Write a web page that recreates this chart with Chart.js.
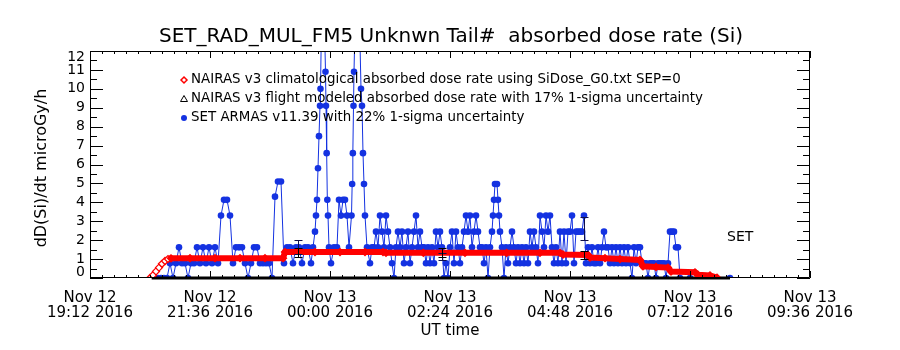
<!DOCTYPE html>
<html>
<head>
<meta charset="utf-8">
<title>SET_RAD_MUL_FM5 absorbed dose rate (Si)</title>
<script src="https://cdn.jsdelivr.net/npm/chart.js@4.4.1/dist/chart.umd.min.js"></script>
<style>
  body { margin: 0; background: #fff; }
  #chart { display: block; }
</style>
</head>
<body>
<canvas id="chart" width="900" height="350"></canvas>
<script>
// DATA  (time = minutes after Nov 12 19:12 UT, dose = microGy/h)
const tickMinutes = [0, 144, 288, 432, 576, 720, 864];
const tickDays = ['Nov 12', 'Nov 12', 'Nov 13', 'Nov 13', 'Nov 13', 'Nov 13', 'Nov 13'];
const tickClock = ['19:12 2016', '21:36 2016', '00:00 2016', '02:24 2016', '04:48 2016', '07:12 2016', '09:36 2016'];
const doseTicks = [0, 1, 2, 3, 4, 5, 6, 7, 8, 9, 10, 11, 12];

// NAIRAS v3 climatological (red diamonds)
const redMinutes = [72, 75.6, 79.2, 82.8, 86.4, 90, 93.6, 97.2, 120, 150,
  180, 210, 231.6, 234, 270, 300, 330, 351.6, 355.2, 400,
  450, 500, 540, 564, 567.6, 597.6, 600, 618, 636, 660,
  663.6, 679.2, 693.6, 697.2, 726, 729.6, 744, 752.4];
const redDose = [0, 0.15, 0.35, 0.55, 0.75, 0.9, 1.0, 1.04, 1.05, 1.05,
  1.05, 1.05, 1.05, 1.37, 1.37, 1.37, 1.37, 1.37, 1.33, 1.33,
  1.33, 1.33, 1.33, 1.33, 1.24, 1.22, 1.08, 1.05, 1.0, 0.95,
  0.62, 0.58, 0.55, 0.34, 0.3, 0.17, 0.13, 0.02];

// NAIRAS v3 flight modeled (black triangles)
const blackMinutes = [74, 100, 130, 160, 190, 220, 250, 280, 310, 340,
  370, 400, 430, 460, 490, 520, 550, 580, 610, 640,
  670, 700, 730, 768];
const blackDose = [0, 0, 0, 0, 0, 0, 0, 0, 0, 0,
  0, 0, 0, 0, 0, 0, 0, 0, 0, 0,
  0, 0, 0, 0];

// SET ARMAS v11.39 (blue dots)
const blueMinutes = [
  74.4, 78, 81.6, 85.2, 88.8, 92.4, 96, 99.6, 103.2, 106.8,
  110.4, 114, 117.6, 121.2, 124.8, 128.4, 132, 135.6, 139.2, 142.8,
  146.4, 150, 153.6, 157.2, 160.8, 164.4, 168, 171.6, 175.2, 178.8,
  182.4, 186, 189.6, 193.2, 196.8, 200.4, 204, 207.6, 211.2, 214.8,
  218.4, 222, 225.6, 229.2, 232.8, 236.4, 240, 243.6, 247.2, 250.8,
  254.4, 258, 261.6, 265.2,
  267.6, 270, 271.2, 272.4, 273.6, 274.8, 276, 276.6, 278.4, 280.8,
  282.6, 283.2, 284, 284.8, 285.6, 286.8, 289.2, 292.8, 296.4, 298.8,
  301.2, 303.6, 306, 308.4, 310.8, 313.8, 314.6, 315.4, 316.2, 316.8,
  319.2, 322.8, 325.2, 326.4, 327.6, 328.8, 330, 332.4,
  336, 338.4, 340.8, 343.2, 345.6, 348, 350.4, 352.8, 355.2, 357.6,
  360, 362.4, 364.8, 367.2, 369.6, 372, 374.4, 376.8, 379.2, 381.6,
  384, 386.4, 388.8, 391.2, 393.6, 396, 398.4, 400.8, 403.2, 405.6,
  408, 410.4, 412.8, 415.2, 417.6, 420, 422.4, 424.8, 427.2, 429.6,
  432, 434.4, 436.8, 439.2, 441.6, 444, 446.4, 448.8, 451.2, 453.6,
  456, 458.4, 460.8, 463.2, 465.6, 468, 470.4, 472.8, 475.2, 477.6,
  480, 482.4, 483.6, 484.8, 486, 488.4, 489.6, 490.8, 492, 494.4,
  496.8, 499.2, 501.6, 504, 506.4, 508.8, 511.2, 513.6, 516, 518.4,
  520.8, 523.2, 525.6, 528, 530.4, 532.8, 535.2, 537.6, 540, 542.4,
  544.8, 547.2, 549.6, 552, 554.4, 556.8, 559.2,
  561.6, 564, 566.4, 568.8, 571.2, 573.6, 576, 578.4, 580.8, 583.2,
  585.6, 588, 590.4, 592.8, 595.2, 597.6, 600, 602.4, 604.8, 607.2,
  609.6, 612, 614.4, 616.8, 619.2, 621.6, 624, 626.4, 628.8, 631.2,
  633.6, 636, 638.4, 640.8, 643.2, 645.6, 648, 650.4, 652.8, 655.2,
  657.6, 660, 662.4, 664.8, 667.2, 669.6, 672, 674.4, 676.8, 679.2,
  681.6, 684, 686.4, 688.8, 691.2, 693.6, 696, 698.4, 700.8, 703.2,
  705.6, 708, 720, 744, 768];
const blueDose = [
  0, 0, 0, 0, 0, 0, 0.78, 0, 0.78, 1.62,
  0.78, 0.78, 0, 0.78, 0.78, 1.62, 0.78, 1.62, 0.78, 1.62,
  0.78, 1.62, 0.78, 3.3, 4.13, 4.13, 3.3, 0.78, 1.62, 1.62,
  1.62, 0.78, 0, 0.78, 1.62, 1.62, 0.78, 0.78, 0.78, 0.78,
  0, 4.3, 5.1, 5.1, 0.78, 1.62, 1.62, 0.78, 1.62, 1.62,
  0.78, 1.62, 1.62, 0.78,
  1.62, 2.45, 3.3, 4.13, 5.8, 7.5, 9.1, 10.0, 15.2, 14.5,
  10.9, 9.1, 6.6, 4.13, 3.3, 1.62, 0.78, 1.62, 1.62, 4.13,
  3.3, 4.13, 4.13, 3.3, 1.62, 3.3, 4.97, 6.6, 9.1, 10.9,
  15.8, 14.8, 10.0, 9.1, 6.6, 4.97, 3.3, 1.62,
  0.78, 1.62, 1.62, 2.45, 1.62, 3.3, 2.45, 1.62, 3.3, 2.45,
  1.62, 0.78, 0, 1.62, 2.45, 1.62, 2.45, 0.78, 1.62, 2.45,
  0.78, 1.62, 2.45, 3.3, 1.62, 2.45, 1.62, 1.62, 0.78, 1.62,
  0.78, 1.62, 0.78, 2.45, 1.62, 2.45, 1.62, 0, 0.78, 0,
  1.62, 2.45, 0.78, 2.45, 1.62, 0.78, 1.62, 2.45, 3.3, 2.45,
  3.3, 1.62, 2.45, 3.3, 2.45, 1.62, 1.62, 0.78, 1.62, 0,
  1.62, 2.45, 3.3, 4.13, 4.97, 4.97, 4.13, 3.3, 2.45, 1.62,
  0, 1.62, 0.78, 1.62, 2.45, 1.62, 0.78, 1.62, 0.78, 1.62,
  0.78, 1.62, 0.78, 2.45, 1.62, 2.45, 1.62, 0.78, 3.3, 2.45,
  1.62, 3.3, 2.45, 3.3, 1.62, 0.78, 1.62,
  0.78, 2.45, 0.78, 2.45, 0.78, 2.45, 2.45, 3.3, 0.78, 2.45,
  2.45, 2.45, 2.45, 3.3, 0.78, 1.62, 0.78, 1.62, 0.78, 0.78,
  1.62, 0.78, 1.62, 2.45, 1.62, 1.62, 0.78, 1.62, 0.78, 1.62,
  0.78, 1.62, 0.78, 1.62, 0.78, 1.62, 0.78, 0, 1.62, 0.78,
  1.62, 1.62, 0.78, 0.78, 0.78, 0, 0.78, 0.78, 0.78, 0,
  0.78, 0.78, 0.78, 0.78, 0, 0.78, 2.45, 2.45, 2.45, 1.62,
  1.62, 0, 0, 0, 0];

// 1-sigma error bars drawn at three times
const errMinutes = [249.6, 422.4, 592.8];
const nairasLow = [1.13, 1.13, 1.01];
const nairasHigh = [1.59, 1.57, 1.44];
const armasLow = [1.27, 0.95, 2.0];
const armasHigh = [2.0, 1.3, 3.25];

const legendText = [
  'NAIRAS v3 climatological absorbed dose rate using SiDose_G0.txt SEP=0',
  'NAIRAS v3 flight modeled absorbed dose rate with 17% 1-sigma uncertainty',
  'SET ARMAS v11.39 with 22% 1-sigma uncertainty'
];

const FONT = "'DejaVu Sans', sans-serif";
const RED = '#ff0000';
const BLUE = 'rgb(20,50,225)';
const RAMP = 7; // first red points are drawn as open diamonds

function points(xs, ys) {
  if (xs.length != ys.length) console.warn('length mismatch', xs.length, ys.length);
  return xs.map((m, i) => ({ x: m, y: ys[i] }));
}

// PLUGINS
const errorBars = {
  id: 'errorBars',
  afterDatasetsDraw(chart) {
    const { ctx, scales: { x, y } } = chart;
    ctx.save();
    ctx.lineWidth = 1;
    function bar(m, lo, hi, color) {
      const px = Math.round(x.getPixelForValue(m)) + 0.5;
      const y1 = Math.round(y.getPixelForValue(lo)) + 0.5;
      const y2 = Math.round(y.getPixelForValue(hi)) + 0.5;
      ctx.strokeStyle = color;
      ctx.beginPath();
      ctx.moveTo(px, y1); ctx.lineTo(px, y2);
      ctx.moveTo(px - 4, y1); ctx.lineTo(px + 4, y1);
      ctx.moveTo(px - 4, y2); ctx.lineTo(px + 4, y2);
      ctx.stroke();
    }
    for (let i = 0; i < errMinutes.length; i++) {
      bar(errMinutes[i], armasLow[i], armasHigh[i], '#10104a');
      bar(errMinutes[i], nairasLow[i], nairasHigh[i], '#000');
    }
    ctx.restore();
  }
};

// box, inward ticks, y labels, titles, legend
const decor = {
  id: 'decor',
  afterDraw(chart) {
    const { ctx, chartArea: a, scales: { x, y } } = chart;
    ctx.save();
    ctx.strokeStyle = '#000';
    ctx.lineWidth = 1;
    ctx.beginPath();
    ctx.rect(a.left + 0.5, a.top + 0.5, a.right - a.left - 1, a.bottom - a.top - 1);
    for (let k = 0; k <= 60; k++) {
      const px = Math.round(x.getPixelForValue(k * 14.4)) + 0.5;
      const len = k % 10 == 0 ? 7 : 3;
      ctx.moveTo(px, a.bottom); ctx.lineTo(px, a.bottom - len);
      ctx.moveTo(px, a.top); ctx.lineTo(px, a.top + len);
    }
    for (let k = 0; k <= 24; k++) {
      const py = Math.round(y.getPixelForValue(k * 0.5)) + 0.5;
      const len = k % 2 == 0 ? 13 : 7;
      ctx.moveTo(a.left, py); ctx.lineTo(a.left + len, py);
      ctx.moveTo(a.right, py); ctx.lineTo(a.right - len, py);
    }
    ctx.stroke();

    ctx.fillStyle = '#000';
    ctx.textBaseline = 'middle';
    // y tick labels, end ones pulled inside like IDL does
    ctx.font = "14px " + FONT;
    ctx.textAlign = 'right';
    doseTicks.forEach(v => {
      let py = y.getPixelForValue(v);
      py = Math.min(Math.max(py, a.top + 6), a.bottom - 6);
      ctx.fillText(String(v), a.left - 5, py);
    });
    // title
    ctx.textAlign = 'center';
    ctx.font = "20px " + FONT;
    ctx.fillText('SET_RAD_MUL_FM5 Unknwn Tail#  absorbed dose rate (Si)', 451, 37);
    // axis titles
    ctx.font = "15px " + FONT;
    ctx.fillText('UT time', 450, 331);
    ctx.save();
    ctx.translate(42, 168);
    ctx.rotate(-Math.PI / 2);
    ctx.font = "16px " + FONT;
    ctx.fillText('dD(Si)/dt microGy/h', 0, 0);
    ctx.restore();
    // SET tag
    ctx.textAlign = 'left';
    ctx.font = "14px " + FONT;
    ctx.fillText('SET', 727, 237);
    // legend
    ctx.font = "13.4px " + FONT;
    const ly = [80, 99, 118];
    legendText.forEach((t, i) => ctx.fillText(t, 191, ly[i]));
    ctx.lineWidth = 1.5;
    ctx.strokeStyle = RED;
    ctx.beginPath();
    ctx.moveTo(184, ly[0] - 3); ctx.lineTo(187, ly[0]); ctx.lineTo(184, ly[0] + 3); ctx.lineTo(181, ly[0]); ctx.closePath();
    ctx.stroke();
    ctx.strokeStyle = '#000';
    ctx.lineWidth = 1;
    ctx.beginPath();
    ctx.moveTo(184, ly[1] - 3.5); ctx.lineTo(187.5, ly[1] + 2.5); ctx.lineTo(180.5, ly[1] + 2.5); ctx.closePath();
    ctx.stroke();
    ctx.fillStyle = BLUE;
    ctx.beginPath();
    ctx.arc(184, ly[2], 3, 0, Math.PI * 2);
    ctx.fill();
    ctx.restore();
  }
};

// CHART
const config = {
  type: 'line',
  data: {
    datasets: [
      {
        label: 'NAIRAS climatological',
        data: points(redMinutes, redDose),
        borderColor: RED,
        borderWidth: 6,
        segment: { borderWidth: c => c.p1DataIndex < RAMP ? 1 : 6 },
        pointStyle: 'rectRot',
        pointRadius: 3.5,
        pointBackgroundColor: c => c.dataIndex < RAMP ? '#fff' : RED,
        pointBorderColor: RED,
        pointBorderWidth: 1.3,
        tension: 0
      },
      {
        label: 'NAIRAS flight',
        data: points(blackMinutes, blackDose),
        borderColor: '#000',
        borderWidth: 3,
        pointRadius: 0,
        clip: false,
        tension: 0
      },
      {
        label: 'SET ARMAS',
        data: points(blueMinutes, blueDose),
        borderColor: BLUE,
        borderWidth: 1,
        pointStyle: 'circle',
        pointRadius: 3.3,
        pointBackgroundColor: BLUE,
        pointBorderWidth: 0,
        tension: 0
      }
    ]
  },
  options: {
    responsive: false,
    animation: false,
    devicePixelRatio: 1,
    layout: { padding: { top: 51, right: 90, left: 0, bottom: 0 } },
    plugins: { legend: { display: false }, tooltip: { enabled: false } },
    scales: {
      x: {
        type: 'linear',
        min: 0,
        max: 864,
        afterBuildTicks: s => { s.ticks = tickMinutes.map(v => ({ value: v })); },
        afterFit: s => { s.height = 72; },
        grid: { display: false, drawTicks: false },
        border: { display: false },
        ticks: {
          autoSkip: false,
          maxRotation: 0,
          padding: 13,
          color: '#000',
          font: { family: FONT, size: 15, lineHeight: 1 },
          callback: (v, i) => [tickDays[i], tickClock[i]]
        }
      },
      y: {
        min: 0,
        max: 12,
        afterFit: s => { s.width = 90; },
        grid: { display: false, drawTicks: false },
        border: { display: false },
        ticks: { display: false, stepSize: 1 }
      }
    }
  },
  plugins: [errorBars, decor]
};

const myChart = new Chart(document.getElementById('chart'), config);
</script>
</body>
</html>
